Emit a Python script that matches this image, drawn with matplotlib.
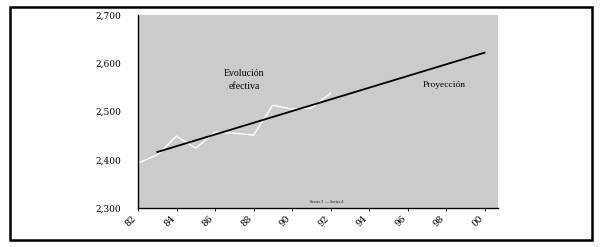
import matplotlib
matplotlib.use("Agg")
import matplotlib.pyplot as plt
from matplotlib.patches import Rectangle

# Evolucion efectiva (serie blanca)
anios_real = [82, 83, 84, 85, 86, 87, 88, 89, 90, 91, 92]
valores_real = [2393, 2410, 2449, 2424, 2457, 2455, 2451, 2513, 2505, 2507, 2538]

# Proyeccion (recta negra)
anios_proy = [83, 100]
valores_proy = [2416, 2622]

ticks_x = [82, 84, 86, 88, 90, 92, 94, 96, 98, 100]
etiquetas_x = ["82", "84", "86", "88", "90", "92", "94", "96", "98", "00"]
ticks_y = [2300, 2400, 2500, 2600, 2700]
etiquetas_y = ["2,300", "2,400", "2,500", "2,600", "2,700"]

plt.rcParams["font.family"] = ["DejaVu Serif"]

fig = plt.figure(figsize=(6, 2.47), dpi=100)
ax = fig.add_axes([0.23, 0.158, 0.60, 0.781])
ax.set_facecolor("#cbcbcb")

ax.plot(anios_real, valores_real, color="white", lw=1.0)
ax.plot(anios_proy, valores_proy, color="black", lw=1.3)

ax.set_xlim(82, 100.7)
ax.set_ylim(2300, 2700)
ax.set_xticks(ticks_x)
ax.set_xticklabels(etiquetas_x, rotation=45, ha="right", va="top",
                   fontsize=6.5)
ax.set_yticks(ticks_y)
ax.set_yticklabels(etiquetas_y, fontsize=6.5)
ax.tick_params(axis="y", length=0, pad=12)
ax.tick_params(axis="x", length=2, width=0.6, pad=2)
for lado in ("top", "right"):
    ax.spines[lado].set_visible(False)
for lado in ("left", "bottom"):
    ax.spines[lado].set_linewidth(1.0)

ax.text(87.5, 2588, "Evolución\nefectiva", fontsize=7, ha="center",
        va="top", linespacing=1.5, family="Liberation Serif")
ax.text(97.9, 2555, "Proyección", fontsize=6.8, ha="center", va="center",
        family="Liberation Serif")
ax.text(91.8, 2313, "Series 3  — Series 4", fontsize=3, ha="center",
        va="center", family="Liberation Serif")

# Marco exterior
fig.patches.append(Rectangle((10 / 600, 1 - 240 / 247), 582 / 600,
                             233 / 247, transform=fig.transFigure,
                             fill=False, lw=1.8, edgecolor="black"))

fig.savefig("out.png", dpi=100)
